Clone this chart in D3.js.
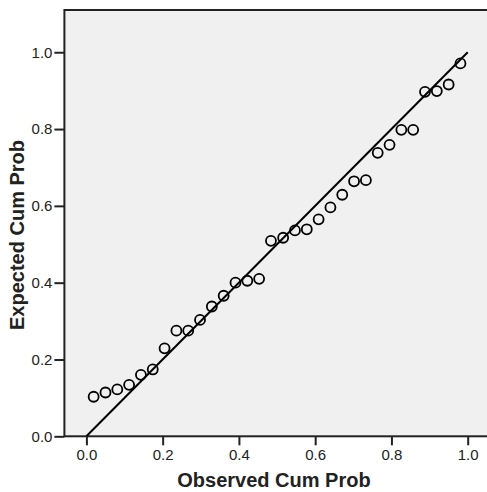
<!DOCTYPE html>
<meta charset="utf-8">
<title>P-P Plot</title>
<style>
    body { margin: 0; background: #fff; }
    .tick text { font-family: "Liberation Sans", Arial, sans-serif; font-size: 15px; fill: #222; }
    .tick line { stroke: #222; stroke-width: 2px; }
    .title { font-family: "Liberation Sans", Arial, sans-serif; font-size: 20px; font-weight: bold; fill: #222; }
</style>
<body>
<div id="chart"></div>
<script src="https://d3js.org/d3.v7.min.js"></script>
<script>

// observed cumulative probabilities (x)
var observed = [0.019, 0.050, 0.081, 0.112, 0.143, 0.174, 0.205, 0.236,
                0.267, 0.298, 0.329, 0.360, 0.391, 0.422, 0.453, 0.484,
                0.516, 0.547, 0.578, 0.609, 0.640, 0.671, 0.702, 0.733,
                0.764, 0.795, 0.826, 0.857, 0.888, 0.919, 0.950, 0.981];

// expected cumulative probabilities (y)
var expected = [0.103, 0.114, 0.122, 0.134, 0.160, 0.174, 0.229, 0.275,
                0.275, 0.303, 0.338, 0.366, 0.400, 0.405, 0.410, 0.509,
                0.517, 0.536, 0.539, 0.565, 0.596, 0.629, 0.664, 0.667,
                0.738, 0.759, 0.798, 0.798, 0.897, 0.899, 0.916, 0.971];

var tickValues = [0, 0.2, 0.4, 0.6, 0.8, 1.0];
var refLine = [[0, 0], [1, 1]];

var width = 487, height = 492;

// set the ranges
var x = d3.scaleLinear().domain([-0.0577, 1.0577]).range([64.4, 489.7]);
var y = d3.scaleLinear().domain([0, 1.11]).range([436.3, 10]);

var svg = d3.select("#chart")
    .append("svg")
    .attr("width", width)
    .attr("height", height);

// plot area
svg.append("rect")
    .attr("x", x(-0.0577))
    .attr("y", y(1.11))
    .attr("width", x(1.0577) - x(-0.0577))
    .attr("height", y(0) - y(1.11))
    .attr("fill", "#f0f0f0")
    .attr("stroke", "#222")
    .attr("stroke-width", 2);

// diagonal reference line
svg.append("path")
    .datum(refLine)
    .attr("fill", "none")
    .attr("stroke", "#000")
    .attr("stroke-width", 2)
    .attr("d", d3.line().x(function (d) { return x(d[0]); }).y(function (d) { return y(d[1]); }));

// points
svg.append("g")
    .selectAll("circle")
    .data(observed)
    .enter()
    .append("circle")
    .attr("cx", function (d) { return x(d); })
    .attr("cy", function (d, i) { return y(expected[i]); })
    .attr("r", 5)
    .attr("fill", "none")
    .attr("stroke", "#000")
    .attr("stroke-width", 1.8);

// x axis
var xAxis = svg.append("g")
    .attr("transform", "translate(0," + y(0) + ")")
    .call(d3.axisBottom(x).tickValues(tickValues).tickFormat(d3.format(".1f")).tickSize(9).tickPadding(4));
xAxis.select(".domain").remove();

// y axis
var yAxis = svg.append("g")
    .attr("transform", "translate(" + x(-0.0577) + ",0)")
    .call(d3.axisLeft(y).tickValues(tickValues).tickFormat(d3.format(".1f")).tickSize(10).tickPadding(2));
yAxis.select(".domain").remove();

// axis titles
svg.append("text")
    .attr("class", "title")
    .attr("x", 274)
    .attr("y", 487)
    .attr("text-anchor", "middle")
    .text("Observed Cum Prob");

svg.append("text")
    .attr("class", "title")
    .attr("transform", "translate(24," + 235 + ") rotate(-90)")
    .attr("text-anchor", "middle")
    .text("Expected Cum Prob");

</script>
</body>
